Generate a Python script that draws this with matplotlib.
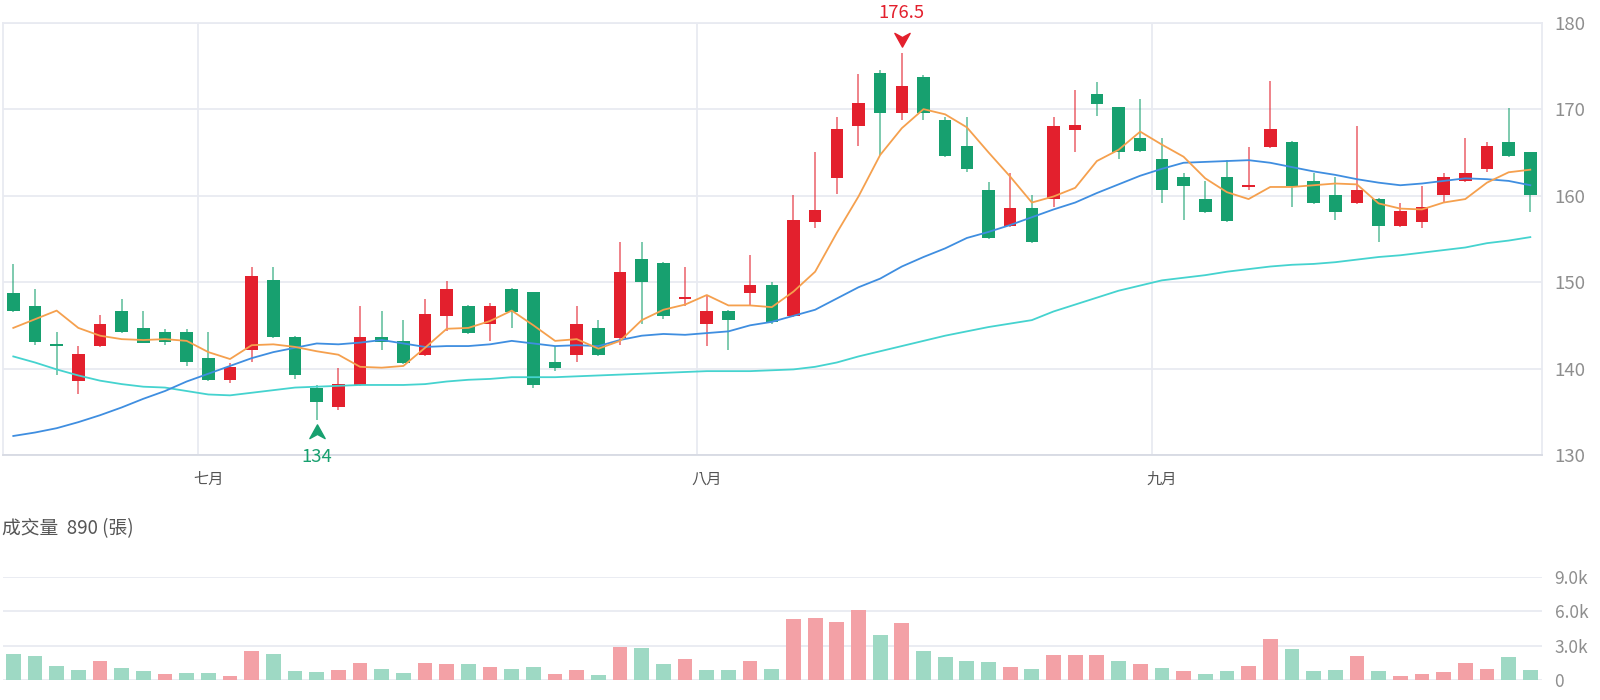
import numpy as np
import matplotlib
matplotlib.use('Agg')
import matplotlib.pyplot as plt
from matplotlib.path import Path

plt.rcParams['font.family'] = ['Noto Sans CJK TC', 'DejaVu Sans']

# daily candles
opens = [148.7, 147.2, 142.8, 138.6, 142.6, 146.7, 144.7, 144.2, 144.2, 141.2,
         138.7, 142.1, 150.2, 143.7, 137.8, 135.6, 138.1, 143.7, 143.2, 141.6,
         146.1, 147.2, 145.1, 149.2, 148.8, 140.7, 141.6, 144.7, 143.5, 152.7,
         152.2, 148.0, 145.1, 146.7, 148.7, 149.7, 146.1, 157.0, 162.0, 168.1,
         174.2, 169.5, 173.7, 168.7, 165.7, 160.7, 156.5, 158.6, 159.6, 167.6,
         171.7, 170.2, 166.7, 164.2, 162.2, 159.6, 162.2, 161.0, 165.6, 166.2,
         161.7, 160.1, 159.1, 159.6, 156.5, 157.0, 160.1, 161.7, 163.1, 166.2,
         165.1]
highs = [152.1, 149.2, 144.2, 142.6, 146.2, 148.1, 146.7, 144.6, 144.6, 144.2,
         140.6, 151.7, 151.7, 143.8, 138.1, 140.1, 147.2, 146.7, 145.6, 148.1,
         150.1, 147.3, 147.6, 149.3, 148.9, 142.6, 147.2, 145.6, 154.6, 154.6,
         152.3, 151.7, 148.5, 146.8, 153.1, 150.0, 160.1, 165.1, 169.1, 174.1,
         174.5, 176.5, 174.0, 169.1, 169.1, 161.6, 162.6, 160.1, 169.1, 172.2,
         173.1, 170.3, 171.2, 166.7, 162.6, 161.7, 164.1, 165.6, 173.2, 166.3,
         162.6, 162.2, 168.1, 159.7, 159.1, 161.1, 162.6, 166.7, 166.2, 170.1,
         165.1]
lows = [146.5, 142.7, 139.2, 137.1, 142.5, 144.1, 142.9, 142.7, 140.3, 138.6,
        138.3, 140.8, 143.5, 138.8, 134.0, 135.2, 138.0, 142.1, 140.5, 141.5,
        144.3, 144.0, 143.2, 144.7, 137.7, 139.7, 140.7, 141.5, 142.7, 145.2,
        145.7, 147.2, 142.6, 142.2, 147.2, 145.2, 146.0, 156.2, 160.2, 165.7,
        164.7, 168.7, 168.7, 164.5, 162.7, 155.0, 156.4, 154.5, 158.7, 165.1,
        169.2, 164.2, 165.0, 159.2, 157.2, 158.0, 157.0, 160.6, 165.5, 158.7,
        159.0, 157.2, 159.0, 154.6, 156.4, 156.2, 159.2, 161.6, 162.7, 164.5,
        158.1]
closes = [146.6, 143.1, 142.6, 141.7, 145.2, 144.2, 143.0, 143.1, 140.7, 138.7,
          140.2, 150.7, 143.6, 139.2, 136.1, 138.2, 143.7, 143.1, 140.6, 146.3,
          149.2, 144.1, 147.2, 146.5, 138.1, 140.1, 145.2, 141.6, 151.2, 150.0,
          146.1, 148.3, 146.7, 145.6, 149.7, 145.4, 157.2, 158.3, 167.7, 170.7,
          169.5, 172.7, 169.5, 164.6, 163.1, 155.1, 158.6, 154.6, 168.0, 168.2,
          170.6, 165.0, 165.2, 160.6, 161.1, 158.1, 157.1, 161.2, 167.7, 161.1,
          159.1, 158.1, 160.6, 156.5, 158.2, 158.7, 162.2, 162.6, 165.7, 164.6,
          160.1]
volumes = [2290, 2140, 1260, 910, 1630, 1060, 830, 510, 600, 600,
           370, 2510, 2260, 770, 710, 860, 1510, 940, 600, 1490,
           1430, 1400, 1140, 940, 1140, 510, 860, 460, 2860, 2800,
           1370, 1830, 860, 860, 1690, 970, 5370, 5430, 5090, 6090,
           3940, 5000, 2570, 2000, 1690, 1600, 1140, 940, 2170, 2170,
           2170, 1630, 1370, 1090, 830, 510, 770, 1200, 3600, 2690,
           830, 910, 2110, 830, 370, 490, 710, 1490, 940, 2000,
           890]

# moving averages as drawn on the chart
ma5 = [144.7, 145.7, 146.7, 144.7, 143.8, 143.4, 143.3, 143.4, 143.2, 141.9,
       141.1, 142.7, 142.8, 142.5, 142.0, 141.6, 140.2, 140.1, 140.3, 142.4,
       144.6, 144.7, 145.5, 146.7, 145.0, 143.2, 143.4, 142.3, 143.2, 145.6,
       146.8, 147.4, 148.5, 147.3, 147.3, 147.1, 148.9, 151.2, 155.7, 159.9,
       164.7, 167.8, 170.0, 169.4, 167.9, 165.0, 162.2, 159.2, 159.9, 160.9,
       164.0, 165.3, 167.4, 165.9, 164.5, 162.0, 160.4, 159.6, 161.0, 161.0,
       161.2, 161.4, 161.3, 159.1, 158.5, 158.4, 159.2, 159.6, 161.5, 162.7,
       163.0]
ma20 = [132.2, 132.6, 133.1, 133.8, 134.6, 135.5, 136.5, 137.4, 138.5, 139.4,
        140.3, 141.2, 141.9, 142.4, 142.9, 142.8, 143.0, 143.3, 142.9, 142.5,
        142.6, 142.6, 142.8, 143.2, 142.9, 142.6, 142.7, 142.6, 143.3, 143.8,
        144.0, 143.9, 144.1, 144.3, 145.0, 145.4, 146.1, 146.8, 148.1, 149.4,
        150.4, 151.8, 152.9, 153.9, 155.1, 155.8, 156.6, 157.5, 158.4, 159.2,
        160.3, 161.3, 162.3, 163.1, 163.8, 163.9, 164.0, 164.1, 163.8, 163.3,
        162.8, 162.4, 161.9, 161.5, 161.2, 161.4, 161.7, 162.0, 161.9, 161.7,
        161.2]
ma60 = [141.4, 140.7, 139.9, 139.2, 138.6, 138.2, 137.9, 137.8, 137.4, 137.0,
        136.9, 137.2, 137.5, 137.8, 137.9, 138.0, 138.1, 138.1, 138.1, 138.2,
        138.5, 138.7, 138.8, 139.0, 139.0, 139.0, 139.1, 139.2, 139.3, 139.4,
        139.5, 139.6, 139.7, 139.7, 139.7, 139.8, 139.9, 140.2, 140.7, 141.4,
        142.0, 142.6, 143.2, 143.8, 144.3, 144.8, 145.2, 145.6, 146.6, 147.4,
        148.2, 149.0, 149.6, 150.2, 150.5, 150.8, 151.2, 151.5, 151.8, 152.0,
        152.1, 152.3, 152.6, 152.9, 153.1, 153.4, 153.7, 154.0, 154.5, 154.8,
        155.2]

month_labels = ['七月', '八月', '九月']
month_first = [9, 32, 53]          # first candle of each month
price_ticks = [130, 140, 150, 160, 170, 180]
vol_ticks = [0, 3000, 6000, 9000]
vol_tick_labels = ['0', '3.0k', '6.0k', '9.0k']

RED = '#e3202d'
GREEN = '#17a06f'
RED_L = '#f3a1a6'
GREEN_L = '#9ed9c4'
GRID = '#e8eaf1'
TXT = '#8e8e8e'

o = np.array(opens)
h = np.array(highs)
l = np.array(lows)
c = np.array(closes)
x = np.arange(len(c))
up = c >= o
col = np.where(up, RED, GREEN)

fig = plt.figure(figsize=(16, 7), dpi=100)
ax = fig.add_axes([3 / 1600, 1 - 455 / 700, 1539 / 1600, 432.3 / 700])
axv = fig.add_axes([3 / 1600, 1 - 680 / 700, 1539 / 1600, 103 / 700])

# candles
ax.vlines(x, l, h, colors=col, linewidth=1.3, alpha=0.6, zorder=3)
body_lo = np.minimum(o, c)
body_h = np.maximum(np.abs(c - o), 0.2)
ax.bar(x, body_h, bottom=body_lo, width=0.58, color=col, linewidth=0, zorder=4)

# moving averages
ax.plot(x, ma60, color='#45d3cf', lw=1.3, zorder=5)
ax.plot(x, ma20, color='#3f8ee0', lw=1.3, zorder=5)
ax.plot(x, ma5, color='#f5a04e', lw=1.3, zorder=5)

ax.set_xlim(-0.475, 70.54)
ax.set_ylim(130, 180)
ax.set_yticks(price_ticks)
ax.yaxis.tick_right()
ax.tick_params(axis='y', length=0, pad=9, labelsize=13.4, labelcolor=TXT)
ax.grid(axis='y', color=GRID, lw=1.3, zorder=0)

# month boundaries fall half a candle before the first trading day
ax.set_xticks([m - 0.46 for m in month_first])
ax.set_xticklabels([])
ax.set_xticks(month_first, labels=month_labels, minor=True)
ax.tick_params(axis='x', which='both', length=0)
ax.tick_params(axis='x', which='minor', pad=11.5, labelsize=11, labelcolor='#555555')
ax.grid(axis='x', which='major', color=GRID, lw=1.3, zorder=0)
for s in ['left', 'right', 'top']:
    ax.spines[s].set_color(GRID)
    ax.spines[s].set_linewidth(1.3)
ax.spines['bottom'].set_color('#d7dae3')
ax.spines['bottom'].set_linewidth(1.3)

# highest / lowest markers
chev_down = Path([(0, -1), (-1, 0.8), (0, 0.25), (1, 0.8), (0, -1)],
                 [Path.MOVETO, Path.LINETO, Path.LINETO, Path.LINETO, Path.CLOSEPOLY])
chev_up = Path([(0, 1), (-1, -0.8), (0, -0.25), (1, -0.8), (0, 1)],
               [Path.MOVETO, Path.LINETO, Path.LINETO, Path.LINETO, Path.CLOSEPOLY])
hi = int(np.argmax(h))
lo = int(np.argmin(l))
ax.plot(hi, h[hi] + 1.6, marker=chev_down, ms=11, color=RED, clip_on=False, zorder=6)
ax.text(hi, h[hi] + 4.6, f'{h[hi]:g}', color=RED, fontsize=13.3,
        ha='center', va='center', clip_on=False)
ax.plot(lo, l[lo] - 1.3, marker=chev_up, ms=11, color=GREEN, clip_on=False, zorder=6)
ax.text(lo, l[lo] - 4.2, f'{l[lo]:g}', color=GREEN, fontsize=13.3,
        ha='center', va='center', clip_on=False)

# volume: colour follows close vs previous close
prev = np.concatenate([[o[0]], c[:-1]])
vcol = np.where(c > prev, RED_L, GREEN_L)
axv.bar(x, volumes, width=0.68, color=vcol, linewidth=0, zorder=3)
axv.set_xlim(-0.475, 70.54)
axv.set_ylim(0, 9000)
axv.set_yticks(vol_ticks)
axv.set_yticklabels(vol_tick_labels)
axv.yaxis.tick_right()
axv.tick_params(axis='y', length=0, pad=9, labelsize=12.5, labelcolor=TXT)
axv.set_xticks([])
axv.grid(axis='y', color=GRID, lw=1.3, zorder=0)
for s in axv.spines.values():
    s.set_visible(False)

fig.text(0.0015, 1 - 529 / 700, f'成交量  {volumes[-1]} (張)', fontsize=13.5,
         color='#555555', va='center', ha='left')

plt.savefig('out.png', dpi=100)
